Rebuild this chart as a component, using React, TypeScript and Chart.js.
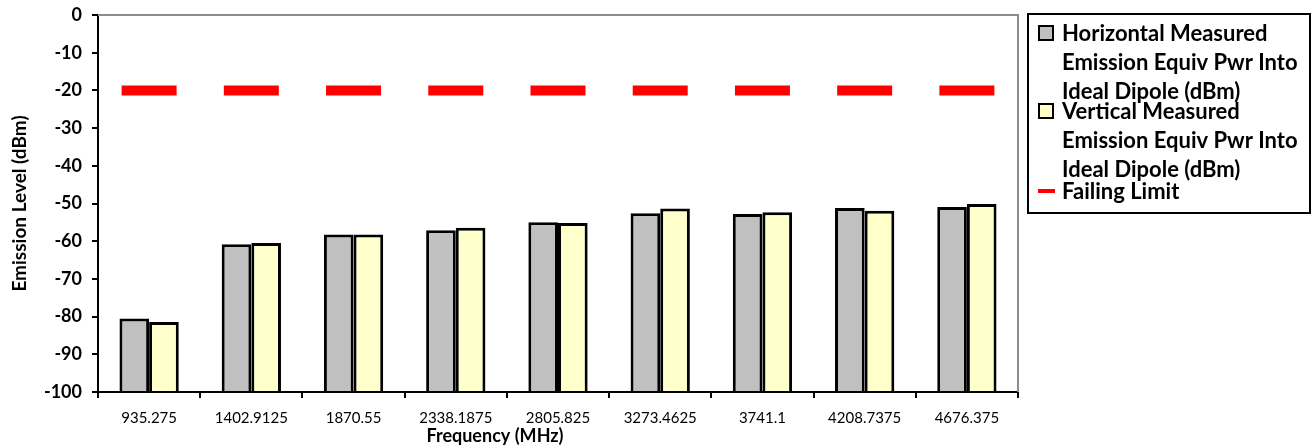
import React, { useEffect, useRef } from "react";
import { Chart, registerables } from "chart.js";

Chart.register(...registerables);

const categories = [
  "935.275",
  "1402.9125",
  "1870.55",
  "2338.1875",
  "2805.825",
  "3273.4625",
  "3741.1",
  "4208.7375",
  "4676.375",
];
const horizontalValues = [-80.5, -60.8, -58.2, -57.1, -55.0, -52.6, -52.8, -51.2, -50.9];
const verticalValues = [-81.4, -60.5, -58.2, -56.4, -55.2, -51.3, -52.3, -51.9, -50.1];
const limitValues = [-20, -20, -20, -20, -20, -20, -20, -20, -20];

const horizontalLabel = ["Horizontal Measured", "Emission Equiv Pwr Into", "Ideal Dipole (dBm)"];
const verticalLabel = ["Vertical Measured", "Emission Equiv Pwr Into", "Ideal Dipole (dBm)"];
const limitLabel = ["Failing Limit"];

const xTitle = "Frequency (MHz)";
const yTitle = "Emission Level (dBm)";

const FONT = "Lato, 'Open Sans', sans-serif";

const frameAndLegend = {
  id: "frameAndLegend",
  afterDraw(chart: any) {
    const { ctx, chartArea } = chart;
    ctx.save();
    // gray top/right frame
    ctx.strokeStyle = "#8c8c8c";
    ctx.lineWidth = 2;
    ctx.beginPath();
    ctx.moveTo(chartArea.left, chartArea.top);
    ctx.lineTo(chartArea.right, chartArea.top);
    ctx.lineTo(chartArea.right, chartArea.bottom);
    ctx.stroke();

    // x title
    ctx.font = `bold 18px ${FONT}`;
    ctx.fillStyle = "#000";
    ctx.textAlign = "center";
    ctx.textBaseline = "middle";
    ctx.fillText(xTitle, 495, 436);

    // legend box
    const bx = 1028, by = 14, bw = 282, bh = 199;
    ctx.strokeStyle = "#000";
    ctx.lineWidth = 2;
    ctx.strokeRect(bx, by, bw, bh);

    ctx.font = `bold 22px ${FONT}`;
    ctx.fillStyle = "#000";
    ctx.textBaseline = "middle";
    ctx.textAlign = "left";
    const textX = 1062;
    const items = [
      { lines: horizontalLabel, y: 33, kind: "box", color: "#C0C0C0" },
      { lines: verticalLabel, y: 111, kind: "box", color: "#FFFFCC" },
      { lines: limitLabel, y: 191, kind: "line", color: "#FF0000" },
    ];
    items.forEach((it) => {
      if (it.kind === "box") {
        ctx.fillStyle = it.color;
        ctx.fillRect(1039, it.y - 7, 14, 14);
        ctx.strokeStyle = "#000";
        ctx.lineWidth = 2;
        ctx.strokeRect(1039, it.y - 7, 14, 14);
      } else {
        ctx.strokeStyle = it.color;
        ctx.lineWidth = 4;
        ctx.beginPath();
        ctx.moveTo(1038, it.y);
        ctx.lineTo(1055, it.y);
        ctx.stroke();
      }
      ctx.fillStyle = "#000";
      it.lines.forEach((ln: string, i: number) => {
        ctx.fillText(ln, textX, it.y + 1 + i * 29);
      });
    });
    ctx.restore();
  },
};

export default function App() {
  const canvasRef = useRef<HTMLCanvasElement | null>(null);

  useEffect(() => {
    document.body.style.margin = "0";
    const canvas = canvasRef.current;
    if (!canvas) return;
    const chart = new Chart(canvas, {
      type: "bar",
      data: {
        labels: categories,
        datasets: [
          {
            type: "line",
            label: limitLabel.join(" "),
            data: limitValues,
            showLine: false,
            pointStyle: "line",
            pointRadius: 27.5,
            pointHoverRadius: 27.5,
            pointBorderWidth: 10,
            pointBorderColor: "#FF0000",
            borderColor: "#FF0000",
            backgroundColor: "#FF0000",
            order: 0,
          } as any,
          {
            label: horizontalLabel.join(" "),
            data: horizontalValues,
            base: -100,
            backgroundColor: "#C0C0C0",
            borderColor: "#000",
            borderWidth: 3,
            barPercentage: 1,
            categoryPercentage: 0.58,
            order: 1,
          } as any,
          {
            label: verticalLabel.join(" "),
            data: verticalValues,
            base: -100,
            backgroundColor: "#FFFFCC",
            borderColor: "#000",
            borderWidth: 3,
            barPercentage: 1,
            categoryPercentage: 0.58,
            order: 1,
          } as any,
        ],
      },
      options: {
        animation: false,
        responsive: false,
        devicePixelRatio: 1,
        layout: { autoPadding: false, padding: { top: 15, right: 295, left: 0, bottom: 0 } },
        plugins: {
          legend: { display: false },
          tooltip: { enabled: false },
        },
        scales: {
          x: {
            offset: true,
            grid: {
              offset: true,
              drawOnChartArea: false,
              drawTicks: true,
              tickLength: 6,
              color: "#000",
              lineWidth: 2,
            },
            border: { color: "#000", width: 2 },
            ticks: {
              color: "#000",
              padding: 11,
              maxRotation: 0,
              autoSkip: false,
              font: { family: FONT, size: 15 },
            },
            title: { display: false },
            afterFit: (scale: any) => {
              scale.height = 54;
            },
          },
          y: {
            min: -100,
            max: 0,
            grid: {
              drawOnChartArea: false,
              drawTicks: true,
              tickLength: 6,
              color: "#000",
              lineWidth: 2,
            },
            border: { color: "#000", width: 2 },
            ticks: {
              stepSize: 10,
              color: "#000",
              padding: 10,
              font: { family: FONT, size: 18, weight: "bold", lineHeight: 0.8 },
            },
            title: {
              display: true,
              text: yTitle,
              color: "#000",
              font: { family: FONT, size: 19, weight: "bold" },
              padding: { top: 8, bottom: 0 },
            },
            afterFit: (scale: any) => {
              scale.width = 98;
              scale.paddingTop = 0;
              scale.paddingBottom = 0;
            },
          },
        },
      },
      plugins: [frameAndLegend],
    });
    return () => chart.destroy();
  }, []);

  return (
    <div style={{ width: 1313, height: 446 }}>
      <canvas ref={canvasRef} width={1313} height={446} style={{ display: "block" }} />
    </div>
  );
}
